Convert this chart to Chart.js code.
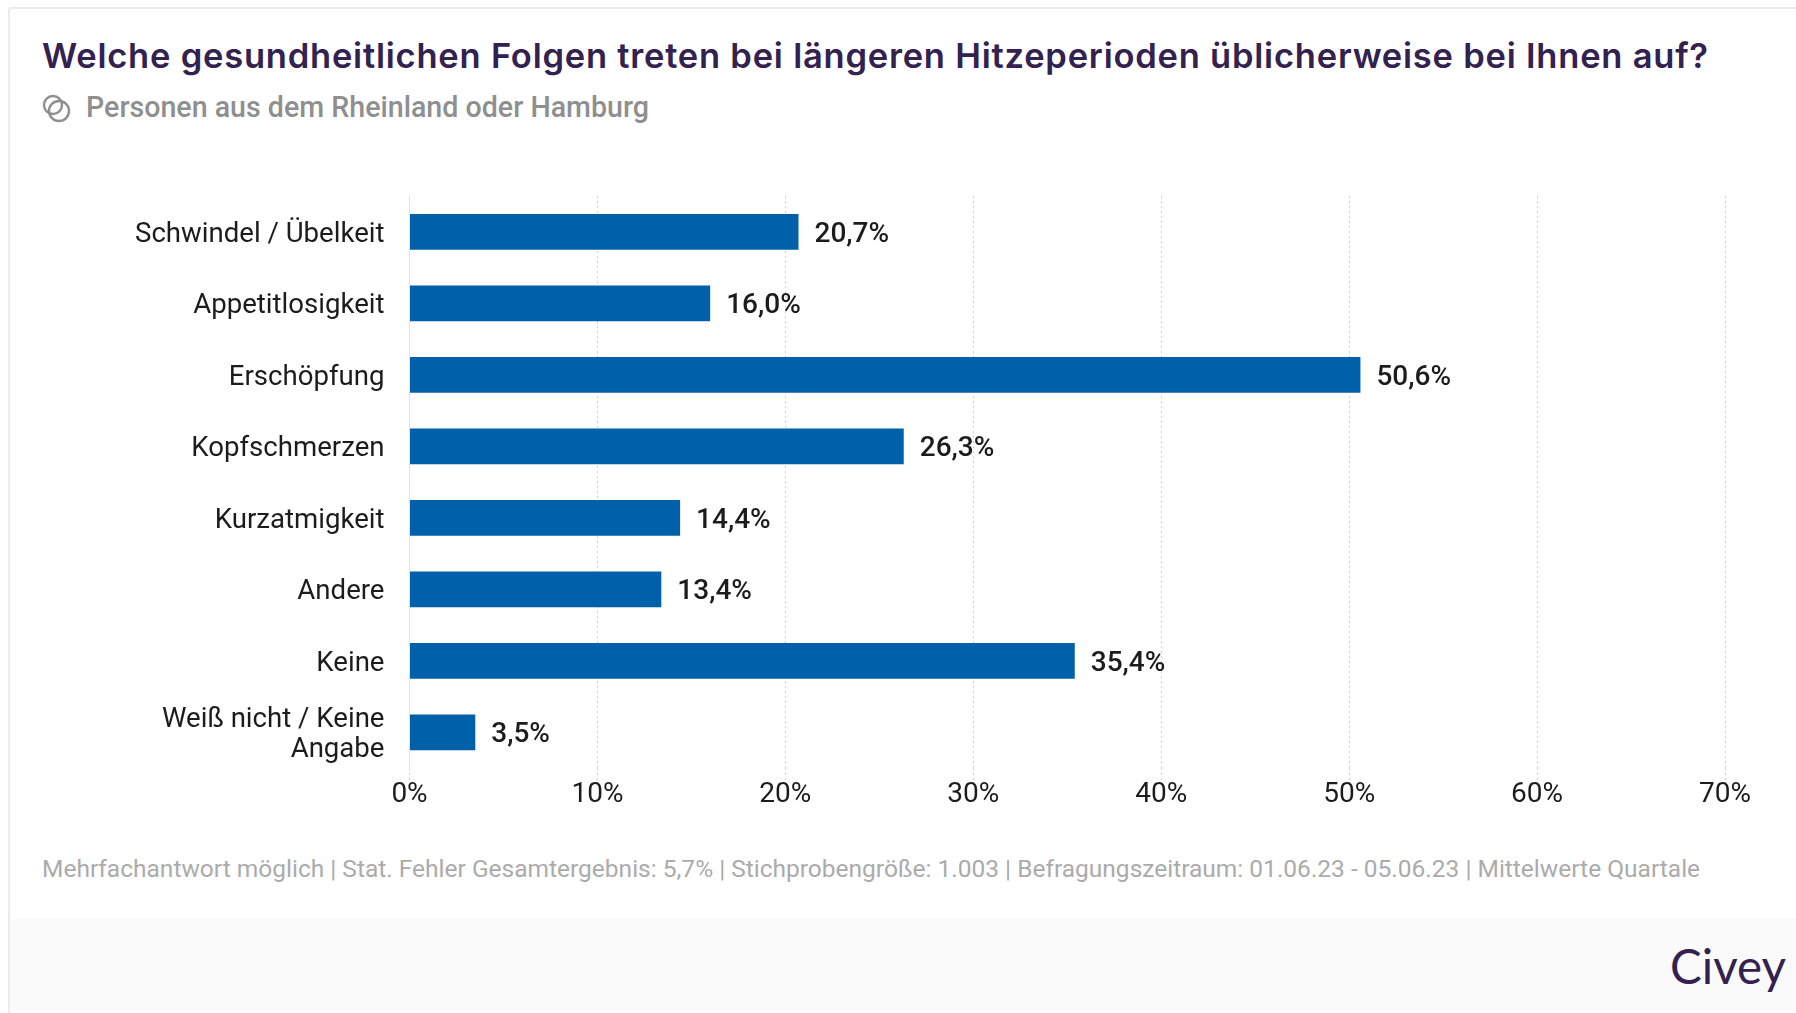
<!DOCTYPE html>
<html lang="de">
<head>
<meta charset="utf-8">
<title>Civey Hitzeperioden</title>
<style>
  html, body { margin: 0; padding: 0; background: #fff; }
  #page { position: relative; width: 1796px; height: 1013px; overflow: hidden; }
  #card { position: absolute; left: 8px; top: 7px; width: 1800px; height: 1010px; border: 2px solid #ececec; border-radius: 4px; box-sizing: border-box; }
  #band { position: absolute; left: 10px; top: 919px; width: 1786px; height: 92px; background: #fafafa; }
  #title { position: absolute; left: 42px; top: 35px; font: 600 34.5px Inter, sans-serif; letter-spacing: 0.78px; color: #33214f; white-space: nowrap; }
  #sub { position: absolute; left: 86px; top: 90px; font: 500 28.6px Roboto, sans-serif; color: #8f8f8f; white-space: nowrap; }
  #icon { position: absolute; left: 42px; top: 94px; }
  #note { position: absolute; left: 42px; top: 854px; font: 400 24.5px Roboto, sans-serif; color: #ababab; white-space: nowrap; }
  #logo { position: absolute; left: 1670px; top: 937px; font: 400 47.5px Lato, sans-serif; color: #33214f; white-space: nowrap; }
  #chart { position: absolute; left: 0; top: 0; }
</style>
</head>
<body>
<div id="page">
  <div id="card"></div>
  <div id="band"></div>
  <div id="title">Welche gesundheitlichen Folgen treten bei längeren Hitzeperioden üblicherweise bei Ihnen auf?</div>
  <svg id="icon" width="30" height="30" viewBox="0 0 30 30" fill="none" stroke="#8f8f8f" stroke-width="2.4">
    <circle cx="11" cy="11" r="9"/><circle cx="17" cy="17" r="10"/>
  </svg>
  <div id="sub">Personen aus dem Rheinland oder Hamburg</div>
  <div id="note">Mehrfachantwort möglich | Stat. Fehler Gesamtergebnis: 5,7% | Stichprobengröße: 1.003 | Befragungszeitraum: 01.06.23 - 05.06.23 | Mittelwerte Quartale</div>
  <div id="logo">Civey</div>
  <canvas id="chart" width="1796" height="1013"></canvas>
</div>
<script src="https://cdn.jsdelivr.net/npm/chart.js@4"></script>
<script>
const categories = ['Schwindel / Übelkeit', 'Appetitlosigkeit', 'Erschöpfung', 'Kopfschmerzen', 'Kurzatmigkeit', 'Andere', 'Keine', ['Weiß nicht / Keine', 'Angabe']];
const shares = [20.7, 16.0, 50.6, 26.3, 14.4, 13.4, 35.4, 3.5];
const tickValues = [0, 10, 20, 30, 40, 50, 60, 70];

// Werte rechts neben den Balken, mit Komma
const valueLabels = {
  id: 'valueLabels',
  afterDatasetsDraw(chart) {
    const { ctx } = chart;
    ctx.save();
    ctx.font = '500 28px Roboto, sans-serif';
    ctx.fillStyle = '#1c1c1c';
    ctx.textBaseline = 'middle';
    chart.getDatasetMeta(0).data.forEach((bar, i) => {
      ctx.fillText(shares[i].toFixed(1).replace('.', ',') + '%', bar.x + 16, bar.y + 3);
    });
    ctx.restore();
  }
};

new Chart(document.getElementById('chart'), {
  type: 'bar',
  data: {
    labels: categories,
    datasets: [{ data: shares, backgroundColor: '#0060a9', barPercentage: 0.5, categoryPercentage: 1 }]
  },
  plugins: [valueLabels],
  options: {
    indexAxis: 'y',
    responsive: false,
    animation: false,
    layout: { padding: { top: 196, right: 71, left: 0, bottom: 0 } },
    plugins: { legend: { display: false }, tooltip: { enabled: false } },
    scales: {
      x: {
        min: 0,
        max: 70,
        afterBuildTicks: axis => { axis.ticks = tickValues.map(value => ({ value })); },
        afterFit: axis => { axis.height = 245; },
        border: { display: false, dash: [2, 3] },
        grid: {
          color: '#cfcfcf',
          tickColor: '#cfcfcf',
          tickLength: 13,
          tickBorderDash: [2, 3]
        },
        ticks: {
          padding: -3,
          maxRotation: 0,
          color: '#1c1c1c',
          font: { family: 'Roboto', size: 28 },
          callback: v => v + '%'
        }
      },
      y: {
        afterFit: axis => { axis.width = 409.5; },
        border: { display: true, color: '#e2e2e2', width: 1 },
        grid: { display: false, drawTicks: false },
        ticks: {
          padding: 25,
          labelOffset: 3,
          color: '#1c1c1c',
          font: { family: 'Roboto', size: 27.6, lineHeight: 1.09 }
        }
      }
    }
  }
});
</script>
</body>
</html>
